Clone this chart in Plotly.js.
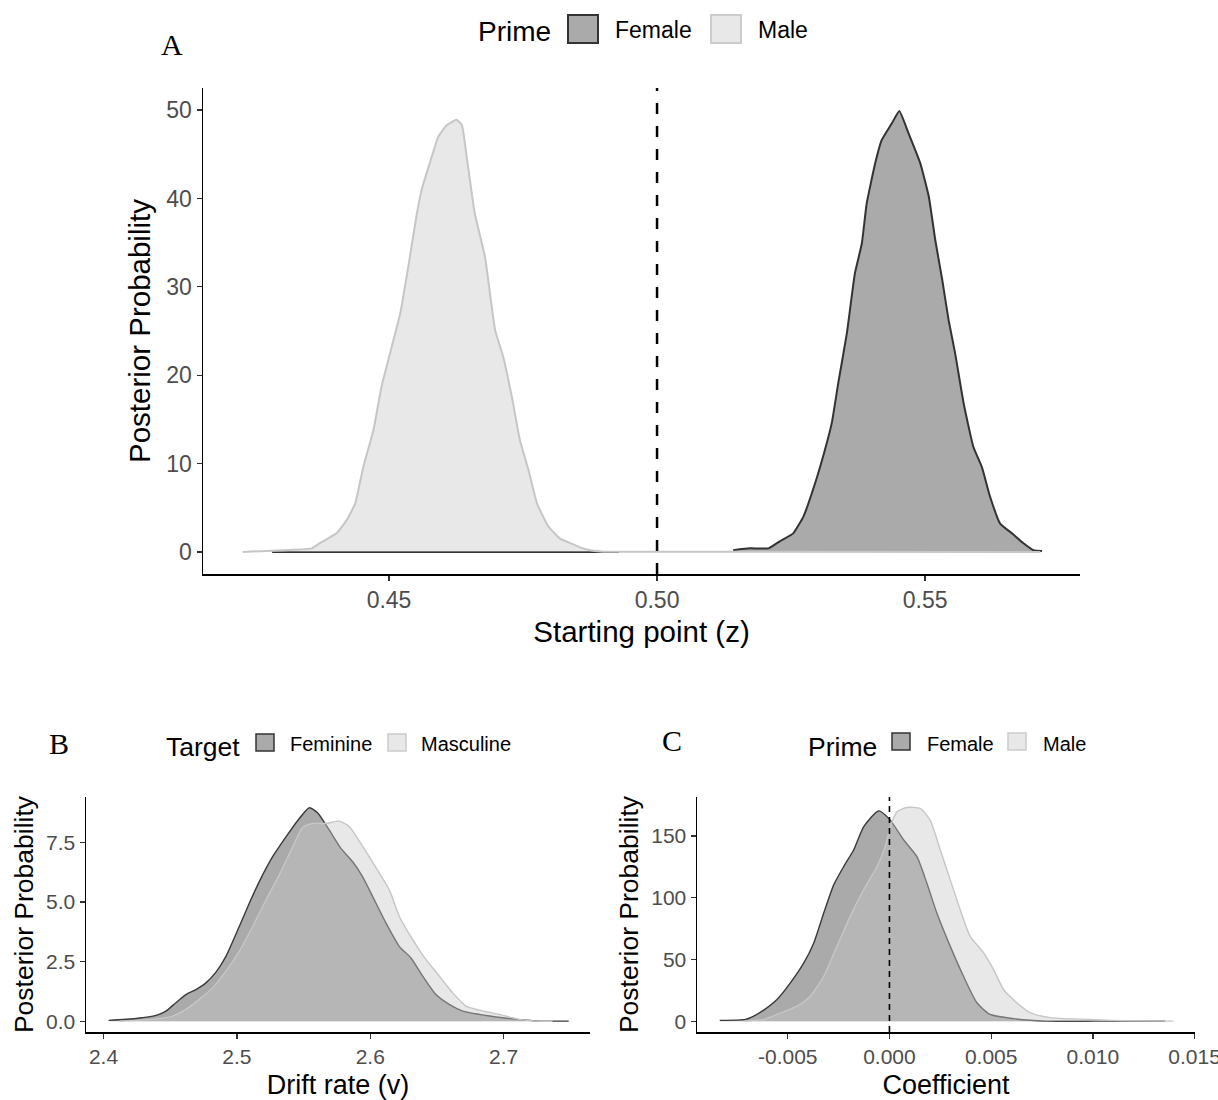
<!DOCTYPE html>
<html>
<head>
<meta charset="utf-8">
<script src="https://cdn.plot.ly/plotly-3.0.1.min.js"></script>
<style>html,body{margin:0;padding:0;background:#fff;}#chart{width:1218px;height:1100px;}</style>
</head>
<body>
<div id="chart"></div>
<script>
// ---------------- DATA ----------------
// Panel A: Starting point (z), grouped by Prime
const A_groups = ['Female', 'Male'];
const A_female_x = [0.5142,0.5173,0.5208,0.5229,0.5254,0.5273,0.5295,0.5313,0.5326,0.5338,0.5354,0.5369,0.5382,0.5391,0.5407,0.5419,0.5438,0.5452,0.5469,0.5491,0.5507,0.5519,0.5532,0.5544,0.5556,0.5572,0.5590,0.5606,0.5621,0.5640,0.5662,0.5683,0.5702,0.5718];
const A_female_y = [0.2,0.4,0.4,1.2,2.1,4.0,7.8,11.5,14.6,19.1,24.7,31.5,34.9,39.4,44.0,46.6,48.5,49.9,47.4,44.0,40.2,35.3,30.8,26.2,22.5,16.8,11.9,9.6,6.3,3.2,2.1,1.0,0.2,0.1];
const A_female_base_x = [0.4282, 0.4929];
const A_female_base_y = [0, 0];
const A_male_x = [0.4227,0.4306,0.4356,0.4371,0.4402,0.4421,0.4437,0.4452,0.4471,0.4486,0.4505,0.4521,0.4536,0.4552,0.4561,0.4576,0.4592,0.4608,0.4626,0.4636,0.4645,0.4660,0.4679,0.4698,0.4713,0.4729,0.4744,0.4760,0.4776,0.4797,0.4819,0.4838,0.4862,0.4878,0.4900,0.5715];
const A_male_y = [0,0.2,0.4,1.0,2.1,3.6,5.5,9.6,13.8,18.7,23.2,27.0,32.3,38.3,41.0,44.0,47.0,48.3,48.9,48.3,44.7,38.3,33.4,25.1,22.1,17.6,12.7,9.3,5.5,2.9,1.5,1.0,0.4,0.15,0.03,0];
const A_refline = [0.5];
const A_xticks = [0.45, 0.50, 0.55];
const A_yticks = [0, 10, 20, 30, 40, 50];

// Panel B: Drift rate (v), grouped by Target
const B_groups = ['Feminine', 'Masculine'];
const B_fem_x = [2.4039,2.4244,2.4394,2.4469,2.4543,2.4618,2.4693,2.4768,2.4843,2.4918,2.5018,2.5093,2.5168,2.5268,2.5368,2.5468,2.5543,2.5606,2.5693,2.5780,2.5868,2.5943,2.6018,2.6118,2.6217,2.6305,2.6393,2.6492,2.6592,2.6693,2.6817,2.6993,2.7167,2.7267,2.7487];
const B_fem_y = [0.04,0.12,0.25,0.43,0.78,1.12,1.33,1.61,2.06,2.72,3.97,4.94,5.85,6.89,7.72,8.49,8.94,8.72,8.0,7.24,6.68,6.05,5.22,4.11,3.14,2.65,1.89,1.12,0.71,0.43,0.29,0.15,0.05,0.01,0.01];
const B_mas_x = [2.4118,2.4368,2.4518,2.4618,2.4718,2.4818,2.4918,2.5018,2.5118,2.5218,2.5318,2.5418,2.5493,2.5568,2.5668,2.5768,2.5843,2.5968,2.6068,2.6143,2.6218,2.6318,2.6418,2.6518,2.6618,2.6718,2.6817,2.6968,2.7117,2.7242,2.7367];
const B_mas_y = [0.01,0.08,0.22,0.5,0.92,1.4,2.1,2.93,3.97,5.08,6.13,7.3,8.11,8.28,8.28,8.38,8.14,7.1,6.2,5.5,4.39,3.42,2.58,1.89,1.19,0.64,0.47,0.29,0.08,0.01,0];
const B_xticks = [2.4, 2.5, 2.6, 2.7];
const B_yticks = [0, 2.5, 5.0, 7.5];

// Panel C: Coefficient, grouped by Prime
const C_groups = ['Female', 'Male'];
const C_female_x = [-0.00834,-0.00708,-0.00667,-0.00618,-0.00553,-0.00487,-0.00421,-0.00372,-0.00323,-0.00274,-0.00225,-0.00176,-0.00127,-0.00053,0.00001,0.00070,0.00135,0.00184,0.00233,0.00299,0.00364,0.00430,0.00495,0.00610,0.00774,0.01019,0.01183,0.01355];
const C_female_y = [0.8,1.6,4.3,9.1,17.7,31.2,47.3,63.5,87.7,110.5,125.3,138.7,157.5,170.4,163.5,146.8,133.3,111.8,87.7,60.7,36.5,15.1,5.6,2.2,0.2,0.2,0.2,0.2];
const C_male_x = [-0.00716,-0.00618,-0.00553,-0.00454,-0.00389,-0.00323,-0.00258,-0.00193,-0.00127,-0.00061,-0.00021,0.00004,0.00037,0.00086,0.00151,0.00200,0.00250,0.00299,0.00348,0.00397,0.00463,0.00512,0.00561,0.00626,0.00692,0.00790,0.00986,0.01101,0.01396];
const C_male_y = [0.2,1.6,5.6,12.4,20.4,36.5,60.7,85,106.5,125.3,141.4,157.5,169.6,173.1,172.3,162.9,138.7,114.5,90.3,68.8,55.4,41.9,25.8,15.1,7.0,3.0,1.6,0.8,0.2];
const C_refline = [0];
const C_xticks = [-0.005, 0, 0.005, 0.010, 0.015];
const C_yticks = [0, 50, 100, 150];

// ---------------- STYLE ----------------
const W = 1218, H = 1100;
const px = v => v / W;
const py = v => 1 - v / H;
const FEM_FILL = 'rgb(170,170,170)';
const FEM_LINE = '#333333';
const MAL_FILL = 'rgba(200,200,200,0.42)';
const MAL_LINE = '#c6c6c6';
const SANS = 'Liberation Sans, Arial, sans-serif';
const SERIF = 'Liberation Serif, Times New Roman, serif';
const TICKC = '#4d4d4d';

function area(x, y, name, fill, line, lw, xa, ya, smooth) {
  return {
    type: 'scatter', mode: 'lines', x: x, y: y, name: name,
    fill: 'tozeroy', fillcolor: fill,
    line: {color: line, width: lw, shape: 'spline', smoothing: smooth},
    xaxis: xa, yaxis: ya, showlegend: false, hoverinfo: 'x+y+name'
  };
}

const traces = [
  // Panel A
  area(A_female_base_x, A_female_base_y, A_groups[0], FEM_FILL, FEM_LINE, 2, 'x', 'y', 0),
  area(A_female_x, A_female_y, A_groups[0], FEM_FILL, FEM_LINE, 2, 'x', 'y', 0.4),
  area(A_male_x, A_male_y, A_groups[1], MAL_FILL, MAL_LINE, 2, 'x', 'y', 0.4),
  // Panel B
  area(B_fem_x, B_fem_y, B_groups[0], FEM_FILL, '#3a3a3a', 1.4, 'x2', 'y2', 0.6),
  area(B_mas_x, B_mas_y, B_groups[1], MAL_FILL, MAL_LINE, 1.4, 'x2', 'y2', 0.6),
  // Panel C
  area(C_female_x, C_female_y, C_groups[0], FEM_FILL, '#3a3a3a', 1.4, 'x3', 'y3', 0.6),
  area(C_male_x, C_male_y, C_groups[1], MAL_FILL, MAL_LINE, 1.4, 'x3', 'y3', 0.6)
];

function axis(domain, range, tickvals, dec, tfs, anchor, title, titleSize, standoff) {
  return {
    domain: domain, range: range, anchor: anchor,
    tickmode: 'array', tickvals: tickvals,
    ticktext: tickvals.map(v => v.toFixed(dec)),
    showgrid: false, zeroline: false,
    showline: true, linecolor: '#000', linewidth: 1.5,
    ticks: 'outside', ticklen: 5, tickwidth: 1.3, tickcolor: '#333',
    ticklabeloverflow: 'allow',
    tickfont: {family: SANS, size: tfs, color: TICKC},
    title: {text: title, font: {family: SANS, size: titleSize, color: '#000'}, standoff: standoff},
    automargin: false, fixedrange: true
  };
}

function txt(text, x, y, size, family, xanchor) {
  return {text: text, x: px(x), y: py(y), xref: 'paper', yref: 'paper',
          xanchor: xanchor || 'left', yanchor: 'middle', showarrow: false,
          font: {family: family, size: size, color: '#000'}};
}

const layout = {
  width: W, height: H,
  margin: {l: 0, r: 0, t: 0, b: 0, pad: 0},
  paper_bgcolor: '#fff', plot_bgcolor: '#fff',
  showlegend: false,
  xaxis:  axis([px(203), px(1080)], [0.4153, 0.5789], A_xticks, 2, 23, 'y', 'Starting point (z)', 29.5, 9),
  yaxis:  axis([py(574), py(88)], [-2.5, 52.5], A_yticks, 0, 23, 'x', 'Posterior Probability', 29.5, 7),
  xaxis2: axis([px(86), px(590)], [2.3869, 2.7647], B_xticks, 1, 21, 'y2', 'Drift rate (v)', 27, 8),
  yaxis2: axis([py(1032), py(797)], [-0.447, 9.39], B_yticks, 1, 21, 'x2', 'Posterior Probability', 26.5, 5),
  xaxis3: axis([px(697), px(1195)], [-0.00946, 0.01502], C_xticks, 3, 21, 'y3', 'Coefficient', 27, 8),
  yaxis3: axis([py(1032), py(797)], [-8.6, 181.6], C_yticks, 0, 21, 'x3', 'Posterior Probability', 26.5, 5),
  shapes: [
    {type: 'line', xref: 'x', yref: 'y domain', x0: A_refline[0], x1: A_refline[0], y0: 0, y1: 1,
     line: {color: '#000', width: 2.5, dash: '11px,12px'}},
    {type: 'line', xref: 'x3', yref: 'y3 domain', x0: C_refline[0], x1: C_refline[0], y0: 0, y1: 1,
     line: {color: '#000', width: 1.6, dash: '6px,5px'}},
    // legend keys
    {type: 'rect', xref: 'paper', yref: 'paper', x0: px(568), x1: px(598), y0: py(43), y1: py(15),
     fillcolor: FEM_FILL, line: {color: FEM_LINE, width: 2}},
    {type: 'rect', xref: 'paper', yref: 'paper', x0: px(711), x1: px(741), y0: py(43), y1: py(15),
     fillcolor: '#e8e8e8', line: {color: '#cccccc', width: 2}},
    {type: 'rect', xref: 'paper', yref: 'paper', x0: px(256), x1: px(274), y0: py(751), y1: py(734),
     fillcolor: FEM_FILL, line: {color: FEM_LINE, width: 1.5}},
    {type: 'rect', xref: 'paper', yref: 'paper', x0: px(388), x1: px(406), y0: py(751), y1: py(734),
     fillcolor: '#e8e8e8', line: {color: '#cccccc', width: 1.5}},
    {type: 'rect', xref: 'paper', yref: 'paper', x0: px(892), x1: px(910), y0: py(750), y1: py(733),
     fillcolor: FEM_FILL, line: {color: FEM_LINE, width: 1.5}},
    {type: 'rect', xref: 'paper', yref: 'paper', x0: px(1008), x1: px(1026), y0: py(750), y1: py(733),
     fillcolor: '#e8e8e8', line: {color: '#cccccc', width: 1.5}}
  ],
  annotations: [
    // panel letters
    txt('A', 172, 45, 30, SERIF, 'center'),
    txt('B', 59, 743, 30, SERIF, 'center'),
    txt('C', 672, 740, 30, SERIF, 'center'),
    // legend A
    txt('Prime', 476, 31, 28, SANS),
    txt(A_groups[0], 613, 30, 23, SANS),
    txt(A_groups[1], 756, 30, 23, SANS),
    // legend B
    txt('Target', 164, 747, 26.5, SANS),
    txt(B_groups[0], 288, 744, 20, SANS),
    txt(B_groups[1], 419, 744, 20, SANS),
    // legend C
    txt('Prime', 806, 747, 26.5, SANS),
    txt(C_groups[0], 925, 744, 20, SANS),
    txt(C_groups[1], 1041, 744, 20, SANS)
  ]
};

Plotly.newPlot('chart', traces, layout, {staticPlot: true, displayModeBar: false});
</script>
</body>
</html>
